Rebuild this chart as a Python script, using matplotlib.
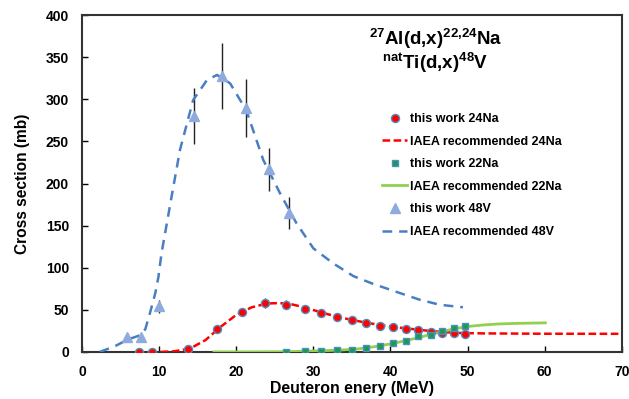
import numpy as np
import matplotlib
matplotlib.use("Agg")
import matplotlib.pyplot as plt

plt.rcParams["font.family"] = "Liberation Sans"
plt.rcParams["font.weight"] = "bold"
plt.rcParams["mathtext.fontset"] = "custom"
plt.rcParams["mathtext.rm"] = "Liberation Sans:bold"
plt.rcParams["mathtext.it"] = "Liberation Sans:bold"
plt.rcParams["mathtext.bf"] = "Liberation Sans:bold"
plt.rcParams["mathtext.default"] = "rm"
plt.rcParams["lines.scale_dashes"] = False

# this work 24Na
na24_E = [7.36, 9.04, 13.7, 17.5, 20.8, 23.7, 26.4, 28.9, 31.0, 33.0,
          34.95, 36.8, 38.6, 40.3, 42.0, 43.6, 45.2, 46.7, 48.2, 49.7]
na24_xs = [0, 0.3, 3.5, 27, 47.5, 58, 56, 51, 46.5, 41.5,
           37.5, 34, 31, 29.5, 27.5, 25.5, 24, 23, 22.5, 21.5]
na24_err = [0.5, 0.5, 1, 2.5, 5, 6, 5.5, 4.5, 4, 3.5,
            3, 2.5, 2.5, 2.5, 2, 2, 2, 2, 2, 2]

# IAEA recommended 24Na
iaea24_E = [10.2, 12, 14, 16, 18, 20, 22, 24, 25.5, 27, 29, 31, 33, 35, 37,
            39, 41, 43, 45, 47, 49, 52, 56, 60, 70]
iaea24_xs = [0, 0.8, 4, 14, 30, 44, 53, 57.5, 58, 57, 52.5, 47, 42, 38, 34.5,
             31.5, 29, 27, 25, 23.5, 22.5, 22, 21.8, 21.6, 21.5]

# this work 22Na
na22_E = [26.4, 28.9, 31.0, 33.0, 35.0, 36.8, 38.6, 40.3, 42.0, 43.6,
          45.2, 46.7, 48.2, 49.7]
na22_xs = [0, 0.8, 1.2, 1.8, 2.6, 4.2, 7.2, 10.5, 13, 18.5,
           20.5, 25, 29, 30.5]

# IAEA recommended 22Na
iaea22_E = [17.1, 22, 26, 28, 30, 32, 34, 36, 38, 40, 42, 44, 46, 48, 50,
            52, 54, 56, 58, 60.1]
iaea22_xs = [0, 0, 0.2, 0.6, 1.1, 1.7, 2.5, 3.8, 6.3, 9.5, 13.5, 17.8, 22.5,
             27, 30.2, 32, 33.2, 33.8, 34.2, 34.5]

# this work 48V
v48_E = [5.88, 7.62, 9.99, 14.5, 18.1, 21.3, 24.2, 26.9]
v48_xs = [17.4, 18, 54, 280.5, 328, 289.6, 216.8, 164.6]
v48_err = [0, 0, 8, 33, 39, 34, 26, 19]

# IAEA recommended 48V
iaea48_E = [2.3, 4.3, 6.0, 7.6, 8.2, 8.8, 9.5, 9.9, 10.3, 11.6, 12.7, 14.4,
            16.2, 17.5, 19.2, 21.3, 23.5, 25.7, 27.8, 30.0, 32.6, 35.2, 37.7,
            41.2, 43.8, 46.4, 49.4]
iaea48_xs = [0, 7, 15, 20, 27, 46, 70, 89, 117, 184, 240, 299, 323, 329, 319,
             287, 228, 188, 153, 123, 105, 90, 81, 70, 62, 56, 53]

fig = plt.figure(figsize=(6.29, 3.99), dpi=100)
ax = fig.add_axes([0.1305, 0.118, 0.858, 0.844])

edge = "#4f8fbf"
ax.errorbar(na24_E, na24_xs, yerr=na24_err, fmt="none", ecolor="#222222",
            elinewidth=1, zorder=2)
ax.plot(na24_E, na24_xs, "o", color="#ff0000", mec=edge, mew=1.0, ms=5.8,
        label="this work 24Na", zorder=4)
ax.plot(iaea24_E, iaea24_xs, color="#ff0000", lw=1.8, dashes=(5.5, 2.5),
        label="IAEA recommended 24Na", zorder=3)
ax.plot(na22_E, na22_xs, "s", color="#1a9a50", mec=edge, mew=1.0, ms=4.8,
        label="this work 22Na", zorder=4)
ax.plot(iaea22_E, iaea22_xs, color="#92d050", lw=2,
        label="IAEA recommended 22Na", zorder=3)
ax.errorbar(v48_E, v48_xs, yerr=v48_err, fmt="none", ecolor="#222222",
            elinewidth=1, zorder=2)
ax.plot(v48_E, v48_xs, "^", color="#8faadc", ms=6.5,
        label="this work 48V", zorder=4)
ax.plot(iaea48_E, iaea48_xs, color="#4a7ec2", lw=1.8, dashes=(7, 5),
        label="IAEA recommended 48V", zorder=3)

ax.set_xlim(0, 70)
ax.set_ylim(0, 400)
ax.set_xticks(np.arange(0, 71, 10))
ax.set_yticks(np.arange(0, 401, 50))
ax.tick_params(direction="in", length=4, width=1, labelsize=10, pad=9.5)
for s in ax.spines.values():
    s.set_linewidth(1.5)
    s.set_color("#333333")

ax.set_xlabel("Deuteron enery (MeV)", fontsize=11.4, fontweight="bold", labelpad=1.5)
ax.set_ylabel("Cross section (mb)", fontsize=11.2, fontweight="bold", labelpad=11)

fig.text(0.692, 0.887, r"$^{27}$Al(d,x)$^{22{,}24}$Na", ha="center",
         fontsize=13.5, fontweight="bold")
fig.text(0.692, 0.827, r"$^{nat}$Ti(d,x)$^{48}$V", ha="center",
         fontsize=13.5, fontweight="bold")

ax.legend(loc="upper left", bbox_to_anchor=(0.59, 0.745),
          bbox_transform=fig.transFigure, frameon=False, fontsize=9,
          handlelength=2.0, handletextpad=0.2, labelspacing=0.85,
          numpoints=1)

plt.savefig("out.png", dpi=100)
